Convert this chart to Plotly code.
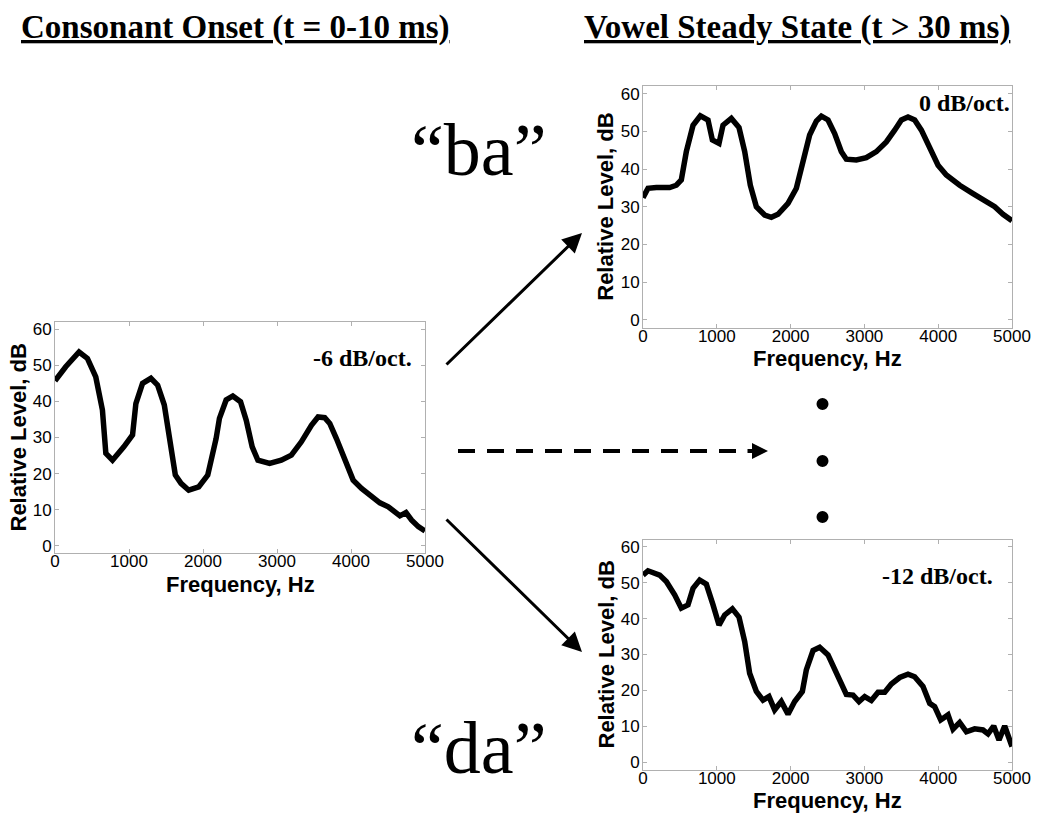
import plotly.graph_objects as go

W, H = 1050, 822

# ---------------- data ----------------
onset_freq = [0, 145, 325, 438, 551, 641, 687, 777, 930, 1048, 1093, 1183, 1296, 1387,
              1477, 1545, 1626, 1703, 1807, 1942, 2064, 2177, 2222, 2313, 2403, 2507,
              2584, 2665, 2742, 2900, 3058, 3194, 3329, 3465, 3555, 3645, 3713, 3803,
              3916, 4029, 4142, 4277, 4390, 4504, 4594, 4661, 4743, 4820, 4910, 5000]
onset_level = [45.7, 49.6, 53.7, 51.9, 46.8, 37.6, 25.6, 23.7, 27.4, 30.7, 39.4, 45.0,
               46.4, 44.5, 39.0, 30.2, 19.6, 17.3, 15.4, 16.3, 19.6, 29.7, 35.3, 40.4,
               41.5, 39.9, 34.8, 27.4, 23.7, 22.8, 23.7, 25.1, 28.8, 33.4, 35.7, 35.5,
               33.9, 29.7, 24.2, 18.2, 15.9, 13.6, 11.9, 10.8, 9.1, 8.3, 9.2, 7.1, 5.3, 4.1]

ba_freq = [0, 68, 181, 361, 452, 519, 587, 678, 777, 881, 940, 1030, 1084, 1197, 1301,
           1378, 1454, 1536, 1649, 1739, 1829, 1965, 2078, 2168, 2258, 2349, 2417, 2507,
           2597, 2688, 2755, 2891, 3026, 3162, 3297, 3410, 3501, 3591, 3681, 3772, 3885,
           3998, 4110, 4291, 4472, 4630, 4766, 4878, 5000]
ba_level = [32.4, 34.9, 35.1, 35.1, 35.7, 37.1, 44.6, 51.6, 54.1, 53.0, 47.7, 46.8, 51.6,
            53.4, 51.0, 44.6, 35.7, 30.0, 27.8, 27.2, 28.0, 30.9, 34.9, 41.9, 49.0, 52.7,
            54.0, 53.0, 49.4, 44.6, 42.6, 42.4, 43.0, 44.6, 47.2, 50.3, 53.0, 53.8, 53.0,
            50.3, 45.6, 41.0, 38.4, 35.7, 33.5, 31.8, 30.0, 28.0, 26.3]

da_freq = [0, 68, 226, 316, 429, 519, 610, 678, 768, 858, 949, 1030, 1107, 1211, 1301,
           1378, 1445, 1536, 1626, 1707, 1784, 1874, 1965, 2055, 2159, 2213, 2304, 2394,
           2507, 2597, 2688, 2755, 2846, 2927, 3004, 3094, 3185, 3275, 3365, 3478, 3591,
           3681, 3794, 3885, 3952, 4034, 4133, 4201, 4291, 4382, 4494, 4607, 4675, 4752,
           4824, 4901, 5000]
da_level = [52.1, 53.3, 52.1, 50.3, 46.6, 42.9, 43.8, 48.4, 50.7, 49.6, 43.8, 38.2, 41.0,
            42.7, 40.4, 33.6, 24.8, 19.7, 17.3, 18.3, 14.6, 16.9, 13.4, 16.9, 19.7, 25.7,
            31.1, 32.0, 29.9, 25.7, 21.2, 18.9, 18.7, 16.9, 18.3, 17.2, 19.5, 19.5, 21.8,
            23.6, 24.5, 23.8, 21.1, 16.4, 15.5, 11.8, 13.2, 9.2, 11.1, 8.5, 9.3, 9.0, 7.9,
            10.1, 6.2, 10.1, 4.4]

x_ticks = [0, 1000, 2000, 3000, 4000, 5000]
y_ticks = [0, 10, 20, 30, 40, 50, 60]
x_title = "Frequency, Hz"
y_title = "Relative Level, dB"
slope_labels = ["-6 dB/oct.", "0 dB/oct.", "-12 dB/oct."]
headers = ["Consonant Onset (t = 0-10 ms)", "Vowel Steady State (t > 30 ms)"]
syllables = ["\u201cba\u201d", "\u201cda\u201d"]


def px(x):
    return x / W


def py(y):
    return 1 - y / H


# panel boxes in pixels: (left, right, top, bottom)
boxes = [(55, 425, 322, 553), (643, 1012, 86, 327.5), (643, 1012, 539.5, 769.5)]
series = [(onset_freq, onset_level), (ba_freq, ba_level), (da_freq, da_level)]

fig = go.Figure()
axis_font = dict(family="Liberation Sans, Arial, sans-serif", size=17, color="black")
title_font = dict(family="Liberation Sans, Arial, sans-serif", size=22, color="black")
serif = "Liberation Serif, Times New Roman, serif"

annotations = []
for i, ((fx, lv), (l, r, t, b)) in enumerate(zip(series, boxes)):
    n = "" if i == 0 else str(i + 1)
    fig.add_trace(go.Scatter(x=fx, y=lv, mode="lines", xaxis="x" + n, yaxis="y" + n,
                             line=dict(color="black", width=5.5), showlegend=False,
                             hoverinfo="skip"))
    common = dict(showgrid=False, zeroline=False, showline=True, linecolor="#b0b0b0",
                  linewidth=1, mirror="ticks", ticks="inside", ticklen=4,
                  tickcolor="#b0b0b0", tickwidth=1, tickfont=axis_font, automargin=False)
    fig.layout["xaxis" + n] = dict(domain=[px(l), px(r)], anchor="y" + n,
                                   range=[0, 5000], tickvals=x_ticks,
                                   ticktext=[str(v) for v in x_ticks],
                                   ticklabelstandoff=-7, **common)
    fig.layout["yaxis" + n] = dict(domain=[py(b), py(t)], anchor="x" + n,
                                   range=[-2, 62], tickvals=y_ticks,
                                   ticktext=[str(v) for v in y_ticks],
                                   ticklabelstandoff=-1, **common)
    # axis titles
    annotations.append(dict(x=px((l + r) / 2), y=py(b + 31), xref="paper", yref="paper",
                            text="<b>" + x_title + "</b>", showarrow=False,
                            xanchor="center", yanchor="middle", font=title_font))
    annotations.append(dict(x=px(l - 37), y=py((t + b) / 2), xref="paper", yref="paper",
                            text="<b>" + y_title + "</b>", showarrow=False, textangle=-90,
                            xanchor="center", yanchor="middle", font=title_font))

# slope labels
slope_pos = [(362, 358), (964, 103), (937, 576)]
for txt, (x, y) in zip(slope_labels, slope_pos):
    annotations.append(dict(x=px(x), y=py(y), xref="paper", yref="paper", text="<b>" + txt + "</b>",
                            showarrow=False, xanchor="center", yanchor="middle",
                            font=dict(family=serif, size=24, color="black")))
# headers
for txt, x in zip(headers, [235, 797]):
    annotations.append(dict(x=px(x), y=py(28), xref="paper", yref="paper",
                            text="<b><u>" + txt + "</u></b>", showarrow=False,
                            xanchor="center", yanchor="middle",
                            font=dict(family=serif, size=33, color="black")))
# syllables
for txt, y in zip(syllables, [150, 748]):
    annotations.append(dict(x=px(479), y=py(y), xref="paper", yref="paper", text=txt,
                            showarrow=False, xanchor="center", yanchor="middle",
                            font=dict(family=serif, size=74, color="black")))
# solid arrows
for (x0, y0, x1, y1) in [(445, 366, 582, 233), (445, 518, 582, 652)]:
    annotations.append(dict(x=px(x1), y=py(y1), xref="paper", yref="paper",
                            ax=x0 - x1, ay=y0 - y1, axref="pixel", ayref="pixel",
                            text="", showarrow=True, arrowhead=2, arrowsize=1.3,
                            arrowwidth=3, arrowcolor="black", standoff=0))
# dashed arrow head
annotations.append(dict(x=px(768), y=py(451), xref="paper", yref="paper",
                        ax=-22, ay=0, axref="pixel", ayref="pixel", text="",
                        showarrow=True, arrowhead=2, arrowsize=0.8, arrowwidth=4,
                        arrowcolor="black", standoff=0))

shapes = [dict(type="line", xref="paper", yref="paper", x0=px(458), x1=px(736),
               y0=py(451), y1=py(451), line=dict(color="black", width=4, dash="17px,12px"))]
for y in [404, 461, 517]:
    shapes.append(dict(type="circle", xref="paper", yref="paper",
                       x0=px(816.5), x1=px(828.5), y0=py(y + 6), y1=py(y - 6),
                       fillcolor="black", line=dict(color="black", width=0)))

fig.update_layout(width=W, height=H, autosize=False, margin=dict(l=0, r=0, t=0, b=0),
                  paper_bgcolor="white", plot_bgcolor="white",
                  annotations=annotations, shapes=shapes, showlegend=False)

fig.write_html("out.html", config={"displayModeBar": False, "responsive": False},
               post_script="document.body.style.margin='0px';"
                           "document.body.style.overflow='hidden';"
                           "document.documentElement.style.overflow='hidden';")
